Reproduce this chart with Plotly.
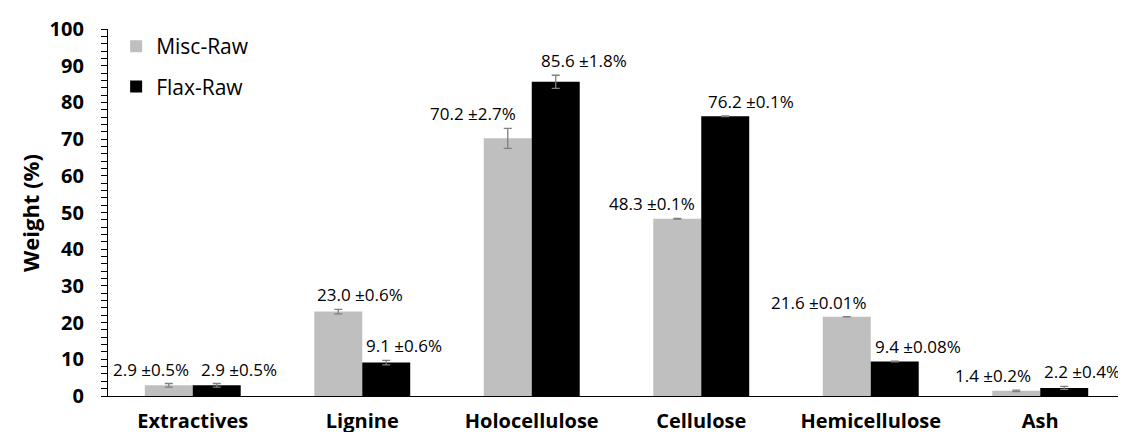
import plotly.graph_objects as go

categories = ["Extractives", "Lignine", "Holocellulose", "Cellulose", "Hemicellulose", "Ash"]
misc_values = [2.9, 23.0, 70.2, 48.3, 21.6, 1.4]
misc_errors = [0.5, 0.6, 2.7, 0.1, 0.01, 0.2]
misc_labels = ["2.9 ±0.5%", "23.0 ±0.6%", "70.2 ±2.7%", "48.3 ±0.1%", "21.6 ±0.01%", "1.4 ±0.2%"]
flax_values = [2.9, 9.1, 85.6, 76.2, 9.4, 2.2]
flax_errors = [0.5, 0.6, 1.8, 0.1, 0.08, 0.4]
flax_labels = ["2.9 ±0.5%", "9.1 ±0.6%", "85.6 ±1.8%", "76.2 ±0.1%", "9.4 ±0.08%", "2.2 ±0.4%"]

# label horizontal nudges (px) relative to each bar centre (styling only)
misc_label_shift = [-18, 22, -35, -25, -28, -23]
flax_label_shift = [22, 18, 28, 26, 23, 18]

FONT = "Open Sans"
MISC_COLOR = "#BFBFBF"
FLAX_COLOR = "#000000"
ERR_COLOR = "#7F7F7F"

W, H = 1126, 432
L, R, T, B = 100, 9, 21, 44
PW, PH = W - L - R, H - T - B

def px(p):
    return (p - L) / PW

def py(p):
    return (H - B - p) / PH

fig = go.Figure()
fig.add_trace(go.Bar(
    name="Misc-Raw", x=categories, y=misc_values, marker_color=MISC_COLOR,
    marker_line_width=0, legendgroup="misc",
    error_y=dict(type="data", array=misc_errors, color=ERR_COLOR, thickness=1.3, width=4),
))
fig.add_trace(go.Bar(
    name="Flax-Raw", x=categories, y=flax_values, marker_color=FLAX_COLOR,
    marker_line_width=0, legendgroup="flax",
    error_y=dict(type="data", array=flax_errors, color=ERR_COLOR, thickness=1.3, width=4),
))

BAR_HALF = 24  # half a bar width in px
annotations = []
for cat, v, e, t, s in zip(categories, misc_values, misc_errors, misc_labels, misc_label_shift):
    annotations.append(dict(x=cat, y=v + e, xref="x", yref="y", text=t, showarrow=False,
                            yanchor="bottom", xanchor="center", xshift=-BAR_HALF + s, yshift=1,
                            font=dict(family=FONT, size=17, color="#000")))
for cat, v, e, t, s in zip(categories, flax_values, flax_errors, flax_labels, flax_label_shift):
    annotations.append(dict(x=cat, y=v + e, xref="x", yref="y", text=t, showarrow=False,
                            yanchor="bottom", xanchor="center", xshift=BAR_HALF + s, yshift=1,
                            font=dict(family=FONT, size=17, color="#000")))
# y-axis title
annotations.append(dict(x=px(22), y=py(205), xref="paper", yref="paper", text="<b>Weight (%)</b>",
                        textangle=-90, showarrow=False, xanchor="center", yanchor="middle",
                        font=dict(family=FONT, size=22, color="#000")))

fig.update_layout(
    width=W, height=H,
    margin=dict(l=L, r=R, t=T, b=B, autoexpand=False),
    paper_bgcolor="white", plot_bgcolor="white",
    barmode="group", bargap=0.434, bargroupgap=0,
    font=dict(family=FONT, color="#000"),
    showlegend=True,
    legend=dict(x=0.008, y=1.008, xanchor="left", yanchor="top", bgcolor="rgba(0,0,0,0)",
                font=dict(family=FONT, size=21), tracegroupgap=10, itemwidth=30),
    annotations=annotations,
    xaxis=dict(
        range=[-0.5, 5.5],
        showline=True, linecolor="#000", linewidth=1.3, ticks="", showgrid=False,
        automargin=False,
        tickfont=dict(family=FONT, size=20, weight="bold"), ticklabelstandoff=7,
    ),
    yaxis=dict(
        range=[0, 100], dtick=10, showline=True, linecolor="#000", linewidth=1.3,
        ticks="outside", ticklen=6, tickcolor="#000", showgrid=False, zeroline=False,
        automargin=False, ticklabelstandoff=13,
        minor=dict(dtick=2, ticks="outside", ticklen=6, tickcolor="#000"),
        tickfont=dict(family=FONT, size=20, weight="bold"),
    ),
)

fig.write_html("out.html")
